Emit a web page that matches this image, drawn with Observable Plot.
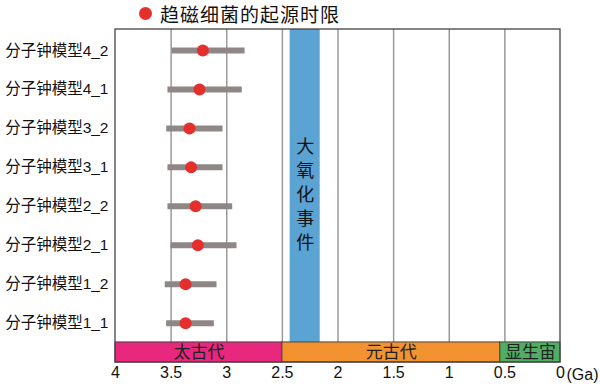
<!DOCTYPE html>
<html>
<head>
<meta charset="utf-8">
<script src="https://cdn.jsdelivr.net/npm/d3@7"></script>
<script src="https://cdn.jsdelivr.net/npm/@observablehq/plot@0.6"></script>
<style>
  html, body { margin: 0; padding: 0; background: #fff; }
  body { width: 600px; height: 384px; overflow: hidden; font-family: "Liberation Sans", "Noto Sans CJK SC", Arial, sans-serif; }
  #chart { position: relative; width: 600px; height: 384px; }
  #legend { position: absolute; left: 139px; top: 0px; height: 26px; display: flex; align-items: center; font-size: 19px; letter-spacing: 1px; color: #111; z-index: 2; font-family: "Noto Sans CJK SC", sans-serif; }
  #legend .dot { width: 13px; height: 13px; border-radius: 50%; background: #e3302c; margin-right: 8px; }
  svg { font-family: "Liberation Sans", "Noto Sans CJK SC", Arial, sans-serif; }
</style>
</head>
<body>
<div id="chart">
  <div id="legend"><span class="dot"></span><span>趋磁细菌的起源时限</span></div>
</div>
<script>
// Models, bottom to top
const models = ["分子钟模型1_1", "分子钟模型1_2", "分子钟模型2_1", "分子钟模型2_2",
                "分子钟模型3_1", "分子钟模型3_2", "分子钟模型4_1", "分子钟模型4_2"];
const origin = [3.37, 3.37, 3.26, 3.28, 3.32, 3.335, 3.245, 3.215];
const lower  = [3.545, 3.557, 3.506, 3.533, 3.533, 3.544, 3.533, 3.497];
const upper  = [3.116, 3.092, 2.912, 2.951, 3.038, 3.038, 2.865, 2.84];

const eras = ["太古代", "元古代", "显生宙"];
const eraStart = [4, 2.5, 0.541];
const eraEnd = [2.5, 0.541, 0];
const eraColors = ["#e8277f", "#f39230", "#4fae62"];

const goeLabel = "大氧化事件";
const goeStart = 2.43, goeEnd = 2.16;

const xTicks = [4, 3.5, 3, 2.5, 2, 1.5, 1, 0.5, 0];
const gridTicks = [3.5, 3, 2.5, 2, 1.5, 1, 0.5];
const unitLabel = "(Ga)";

const rows = models.map((m, i) => ({model: m, i, origin: origin[i], lo: lower[i], hi: upper[i]}));
const eraData = eras.map((e, i) => ({era: e, x1: eraStart[i], x2: eraEnd[i], color: eraColors[i]}));

const yTop = 7.54, yPlotBottom = -0.495, yStripBottom = -1.01;

const plot = Plot.plot({
  width: 600,
  height: 384,
  marginLeft: 115,
  marginRight: 40,
  marginTop: 29,
  marginBottom: 22,
  style: {fontSize: "15.5px", color: "#111", background: "transparent"},
  x: {domain: [4, 0], range: [115, 560]},
  y: {domain: [yStripBottom, yTop], range: [362, 29]},
  marks: [
    // GOE band
    Plot.rectX([{x1: goeStart, x2: goeEnd}], {x1: "x1", x2: "x2", y1: yPlotBottom, y2: yTop, fill: "#5aa3d3"}),
    // grid lines
    Plot.ruleX(gridTicks, {y1: yPlotBottom, y2: yTop, stroke: "#9a9a9a", strokeWidth: 1.5}),
    // GOE label
    Plot.text([goeLabel], {x: (goeStart + goeEnd) / 2, frameAnchor: "middle", text: d => d.split("").join("\n"), fontSize: 18, lineHeight: 1.33, fill: "#111", dy: -3, fontFamily: "Noto Sans CJK SC"}),
    // era strip
    Plot.rectX(eraData, {x1: "x1", x2: "x2", y1: yStripBottom, y2: yPlotBottom, fill: "color", stroke: "#444", strokeWidth: 1}),
    Plot.text(eraData, {x: d => (d.x1 + d.x2) / 2, y: (yStripBottom + yPlotBottom) / 2, text: "era", fontSize: 17, fill: "#222", fontFamily: "Noto Sans CJK SC"}),
    // frame
    Plot.rect([0], {x1: 4, x2: 0, y1: yStripBottom, y2: yTop, fill: "none", stroke: "#444", strokeWidth: 1.3}),
    // error bars
    Plot.link(rows, {x1: "lo", x2: "hi", y1: "i", y2: "i", stroke: "#8f8785", strokeWidth: 6}),
    // origin points
    Plot.dot(rows, {x: "origin", y: "i", r: 6, fill: "#e3302c"}),
    // axes
    Plot.axisY(d3.range(models.length), {tickSize: 0, tickPadding: 7, tickFormat: i => models[i], fontSize: 15.5, fill: "#111", label: null}),
    Plot.axisX(xTicks, {tickSize: 0, tickPadding: 4, tickFormat: d => String(d), fontSize: 16, fill: "#111", label: null}),
    Plot.text([unitLabel], {x: 0, y: yStripBottom, text: d => d, textAnchor: "start", dx: 6, dy: 12, fontSize: 16, fill: "#111"})
  ]
});
document.getElementById("chart").appendChild(plot);
</script>
</body>
</html>
